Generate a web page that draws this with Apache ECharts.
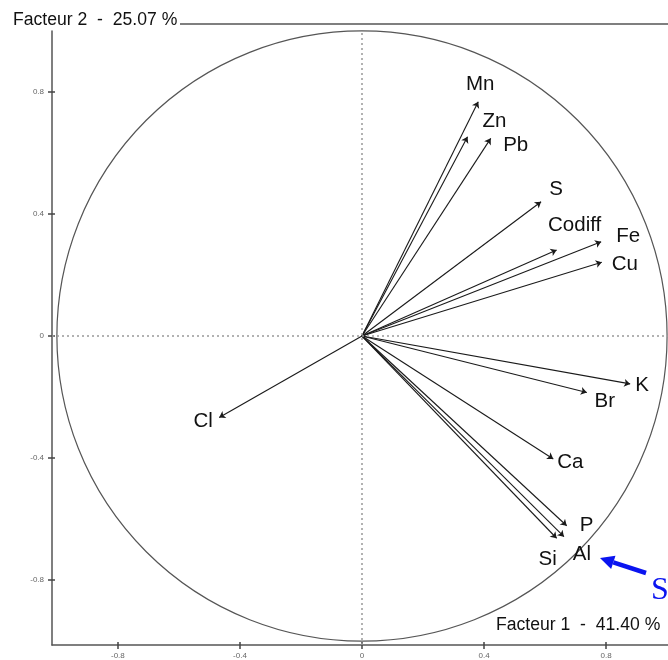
<!DOCTYPE html>
<html><head><meta charset="utf-8">
<script src="https://cdn.jsdelivr.net/npm/echarts@6/dist/echarts.min.js"></script>
<style>html,body{margin:0;padding:0;background:#fff}#c{width:668px;height:660px}</style>
</head><body><div id="c"></div>
<script>
// ---- data ----
const variables = ['Mn','Zn','Pb','S','Codiff','Fe','Cu','K','Br','Ca','P','Al','Si','Cl'];
const factor1 = [0.381,0.346,0.422,0.587,0.638,0.784,0.786,0.879,0.737,0.627,0.671,0.662,0.638,-0.468];
const factor2 = [0.768,0.653,0.648,0.440,0.282,0.309,0.242,-0.157,-0.185,-0.403,-0.622,-0.658,-0.663,-0.267];
const tickValues = [-0.8,-0.4,0,0.4,0.8];
const xTitle = 'Facteur 1  -  41.40 %';
const yTitle = 'Facteur 2  -  25.07 %';
const annotationText = 'S';

// ---- label placement (px offsets from arrow tip) ----
const labelOffset = {Mn:[2,-17],Zn:[27,-15],Pb:[25,7],S:[15,-12],Codiff:[18,-25],Fe:[27,-5],Cu:[23,2],K:[12,1],Br:[18,9],Ca:[17,3],P:[20,0],Al:[18,18],Si:[-9,21],Cl:[-16,4]};

const chart = echarts.init(document.getElementById('c'), null, {renderer:'canvas'});

const axisCommon = {
  type:'value',
  splitLine:{show:false},
  axisLine:{show:true,onZero:false,lineStyle:{color:'#555',width:1.5}},
  axisTick:{show:true,customValues:tickValues,length:4,lineStyle:{color:'#444',width:1.5}},
  axisLabel:{customValues:tickValues,fontSize:8,color:'#666',fontFamily:'Liberation Sans'}
};
const axisInner = {
  type:'value',
  splitLine:{show:false},
  axisLine:{show:false,onZero:false},
  axisTick:{show:true,inside:true,customValues:tickValues,length:3,lineStyle:{color:'#444',width:1.5}},
  axisLabel:{show:false}
};

// blue annotation arrow (pixel decoration)
const aTip=[600,558], aTail=[646,573];
const dx=aTail[0]-aTip[0], dy=aTail[1]-aTip[1], L=Math.hypot(dx,dy), ux=dx/L, uy=dy/L, px=-uy, py=ux;
const headLen=14, headW=7;
const hb=[aTip[0]+ux*headLen, aTip[1]+uy*headLen];

chart.setOption({
  animation:false,
  grid:{left:52,right:0,top:31,bottom:15},
  xAxis:[
    Object.assign({},axisCommon,{min:-1.016,max:1.003,position:'bottom',axisLabel:Object.assign({},axisCommon.axisLabel,{margin:7})}),
    Object.assign({},axisInner,{min:-1.016,max:1.003,position:'bottom'})
  ],
  yAxis:[
    Object.assign({},axisCommon,{min:-1.013,max:1.0,position:'left',axisLabel:Object.assign({},axisCommon.axisLabel,{margin:8})}),
    Object.assign({},axisInner,{min:-1.013,max:1.0,position:'left'})
  ],
  series:[
    {
      type:'custom', coordinateSystem:'cartesian2d', clip:false, silent:true,
      data:[[0,0]],
      renderItem:(params,api)=>{
        const c=api.coord([0,0]), e=api.coord([1,0]);
        return {type:'circle',shape:{cx:c[0],cy:c[1],r:e[0]-c[0]},style:{fill:null,stroke:'#555',lineWidth:1.2}};
      },
      markLine:{silent:true,symbol:'none',label:{show:false},animation:false,
        lineStyle:{type:[2,3],color:'#999',width:1.5},
        data:[{xAxis:0},{yAxis:0}]}
    },
    {
      type:'lines', coordinateSystem:'cartesian2d', silent:true,
      symbol:['none','arrow'], symbolSize:6,
      lineStyle:{color:'#1a1a1a',width:1.1,opacity:1},
      data:variables.map((v,i)=>({coords:[[0,0],[factor1[i],factor2[i]]]}))
    },
    {
      type:'scatter', symbolSize:0, silent:true,
      itemStyle:{opacity:1},
      data:variables.map((v,i)=>({name:v,value:[factor1[i],factor2[i]],
        label:{offset:labelOffset[v]}})),
      label:{show:true,position:'inside',formatter:p=>p.name,fontSize:20.5,color:'#111',opacity:1,
        textBorderWidth:0,fontFamily:'Liberation Sans',align:'center',verticalAlign:'middle'}
    }
  ],
  graphic:[
    {type:'text',left:13,top:11,style:{text:yTitle,fontSize:17.6,fontFamily:'Liberation Sans',fill:'#111'}},
    {type:'line',shape:{x1:180,y1:24,x2:668,y2:24},style:{stroke:'#555',lineWidth:1.5}},
    {type:'text',left:496,top:616,style:{text:xTitle,fontSize:17.6,fontFamily:'Liberation Sans',fill:'#111'}},
    {type:'line',shape:{x1:aTail[0],y1:aTail[1],x2:hb[0],y2:hb[1]},style:{stroke:'#0a14f0',lineWidth:4.5}},
    {type:'polygon',shape:{points:[aTip,[hb[0]+px*headW,hb[1]+py*headW],[hb[0]-px*headW,hb[1]-py*headW]]},style:{fill:'#0a14f0'}},
    {type:'text',left:651,top:575,style:{text:annotationText,fontSize:32,fontFamily:'Liberation Serif',fill:'#0a14f0'}}
  ]
});
</script>
</body></html>
